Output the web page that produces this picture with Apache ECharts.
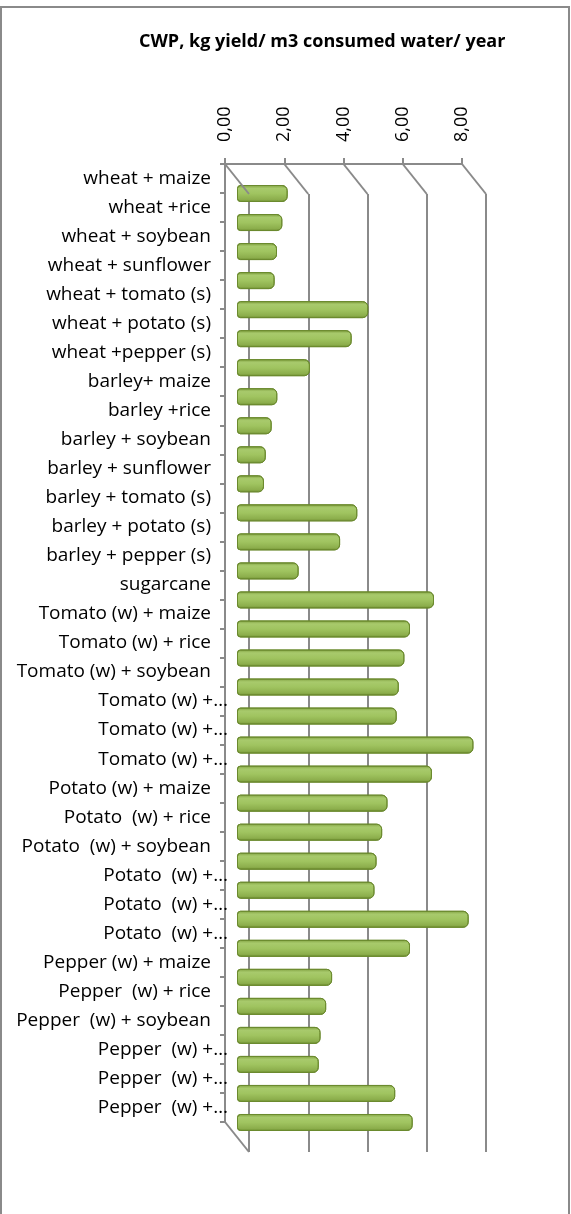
<!DOCTYPE html>
<html>
<head>
<meta charset="utf-8">
<script src="https://cdn.jsdelivr.net/npm/echarts@6/dist/echarts.min.js"></script>
<style>
  html, body { margin: 0; padding: 0; background: #fff; }
  #chart { width: 571px; height: 1214px; }
</style>
</head>
<body>
<div id="chart"></div>
<script>
// crop combinations, top to bottom
const categories = [
  'wheat + maize', 'wheat +rice', 'wheat + soybean', 'wheat + sunflower',
  'wheat + tomato (s)', 'wheat + potato (s)', 'wheat +pepper (s)',
  'barley+ maize', 'barley +rice', 'barley + soybean', 'barley + sunflower',
  'barley + tomato (s)', 'barley + potato (s)', 'barley + pepper (s)',
  'sugarcane',
  'Tomato (w) + maize', 'Tomato (w) + rice', 'Tomato (w) + soybean',
  'Tomato (w) +…', 'Tomato (w) +…', 'Tomato (w) +…',
  'Potato (w) + maize', 'Potato  (w) + rice', 'Potato  (w) + soybean',
  'Potato  (w) +…', 'Potato  (w) +…', 'Potato  (w) +…',
  'Pepper (w) + maize', 'Pepper  (w) + rice', 'Pepper  (w) + soybean',
  'Pepper  (w) +…', 'Pepper  (w) +…', 'Pepper  (w) +…'
]
// CWP, kg yield per m3 consumed water per year
const cwpValues = [
  1.71, 1.53, 1.35, 1.27, 4.43, 3.87, 2.46,
  1.36, 1.17, 0.97, 0.91, 4.06, 3.48, 2.08,
  6.65,
  5.84, 5.65, 5.46, 5.39, 7.98, 6.58,
  5.08, 4.90, 4.71, 4.64, 7.82, 5.84,
  3.21, 3.01, 2.82, 2.76, 5.34, 5.93
]
const tickValues = [0, 2, 4, 6, 8]

const titleText = 'CWP, kg yield/ m3 consumed water/ year'
const FONT = 'Open Sans'
const GRAY = '#8a8a8a'

// fake 3d: front plane, bars at half depth, back wall at full depth
const plot = { left: 225, top: 164, width: 237, height: 958 }
const depth = { dx: 24, dy: 30 }

function gridAt(k) {
  return {
    left: plot.left + depth.dx * k,
    top: plot.top + depth.dy * k,
    width: plot.width,
    height: plot.height
  }
}

const valueAxisBase = {
  type: 'value',
  min: tickValues[0],
  max: tickValues[tickValues.length - 1],
  interval: tickValues[1] - tickValues[0]
}

const barGradient = new echarts.graphic.LinearGradient(0, 0, 0, 1, [
  { offset: 0, color: '#80a040' },
  { offset: 0.2, color: '#a8ca6c' },
  { offset: 0.5, color: '#a0c460' },
  { offset: 0.85, color: '#8cae4c' },
  { offset: 1, color: '#6e8e30' }
])

let myChart = echarts.init(document.getElementById('chart'))

let option = {
  animation: false,
  backgroundColor: '#fff',
  title: {
    text: titleText,
    left: 139,
    top: 33,
    padding: 0,
    textStyle: { fontFamily: FONT, fontWeight: 'bold', fontSize: 18, color: '#000' }
  },
  grid: [gridAt(1), gridAt(0.5), gridAt(0)],
  xAxis: [
    Object.assign({}, valueAxisBase, {
      gridIndex: 0,
      position: 'bottom',
      axisLine: { show: false },
      axisTick: { show: false },
      axisLabel: { show: false },
      splitLine: { show: true, lineStyle: { color: GRAY, width: 2 } }
    }),
    Object.assign({}, valueAxisBase, {
      gridIndex: 1,
      show: false
    }),
    Object.assign({}, valueAxisBase, {
      gridIndex: 2,
      position: 'top',
      axisLine: { show: true, lineStyle: { color: GRAY, width: 2 } },
      axisTick: { show: true, length: 6, lineStyle: { color: GRAY, width: 2 } },
      axisLabel: {
        rotate: -90,
        margin: 22,
        fontFamily: FONT,
        fontSize: 18,
        color: '#000',
        formatter: v => v.toFixed(2).replace('.', ',')
      },
      splitLine: { show: false }
    })
  ],
  yAxis: [
    { type: 'category', gridIndex: 0, data: categories, inverse: true, show: false },
    { type: 'category', gridIndex: 1, data: categories, inverse: true, show: false },
    {
      type: 'category',
      gridIndex: 2,
      data: categories,
      inverse: true,
      axisLine: { show: true, lineStyle: { color: GRAY, width: 2 } },
      axisTick: { show: true, length: 5, lineStyle: { color: GRAY, width: 2 } },
      axisLabel: {
        interval: 0,
        margin: 14,
        fontFamily: FONT,
        fontSize: 19,
        color: '#000',
        // cut-off labels run past the axis, as in the source
        formatter: v => v.endsWith('…') ? '{cut|' + v + '}' : v,
        rich: {
          cut: { fontFamily: FONT, fontSize: 19, color: '#000', padding: [0, -17, 0, 0] }
        }
      },
      splitLine: { show: false }
    }
  ],
  series: [
    {
      name: 'CWP',
      type: 'bar',
      xAxisIndex: 1,
      yAxisIndex: 1,
      data: cwpValues,
      barWidth: 17,
      itemStyle: {
        color: barGradient,
        borderColor: '#6b8a2e',
        borderWidth: 1,
        borderRadius: [3, 5, 5, 3]
      }
    }
  ]
}

myChart.setOption(option)

// depth edges of the box, placed from the front axis scale
let edges = tickValues.map(v => {
  const x = myChart.convertToPixel({ xAxisIndex: 2 }, v)
  return {
    type: 'line',
    shape: { x1: x, y1: plot.top, x2: x + depth.dx, y2: plot.top + depth.dy },
    style: { stroke: GRAY, lineWidth: 2 },
    z: 5
  }
})
const x0 = myChart.convertToPixel({ xAxisIndex: 2 }, tickValues[0])
edges.push({
  type: 'line',
  shape: {
    x1: x0, y1: plot.top + plot.height,
    x2: x0 + depth.dx, y2: plot.top + plot.height + depth.dy
  },
  style: { stroke: GRAY, lineWidth: 2 },
  z: 5
})
// chart area frame
edges.push({
  type: 'rect',
  shape: { x: 1, y: 7, width: 568, height: 1240 },
  style: { fill: 'none', stroke: GRAY, lineWidth: 2 },
  z: 10
})

myChart.setOption({ graphic: edges })

window.addEventListener('resize', () => {
  myChart.resize()
})
</script>
</body>
</html>
